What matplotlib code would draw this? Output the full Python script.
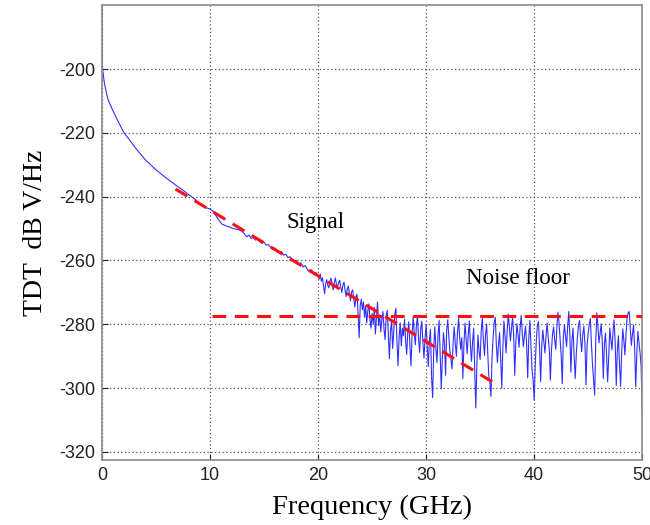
import numpy as np
import matplotlib
matplotlib.use("Agg")
import matplotlib.pyplot as plt

plt.rcParams["axes.unicode_minus"] = False

# ---- data ----
smooth_freq = [0.0, 0.0, 0.0, 0.02, 0.05, 0.2, 0.4, 0.6, 1.0, 1.5, 2.0, 2.5, 3.0, 3.5,
               4.0, 5.0, 6.0, 7.0, 7.5, 8.0, 8.6, 9.2, 9.6, 10.0, 10.3, 10.7, 11.1, 11.5, 11.8]
smooth_db = [-180.5, -190.0, -191.0, -196.0, -200.0, -204.0, -207.5, -210.0, -213.0, -216.5,
             -219.8, -222.0, -224.3, -226.4, -228.4, -231.6, -234.3, -236.8, -238.0, -239.3,
             -240.8, -242.6, -243.4, -243.9, -244.6, -246.8, -248.6, -249.2, -249.5]

# 12.0 .. 19.8 GHz, every 0.2 GHz
mid_start, mid_step = 12.0, 0.2
mid_db = [
    -249.8, -250.0, -250.2, -250.3, -250.6, -250.9, -251.8, -252.6, -252.0, -253.1,
    -252.8, -253.6, -253.2, -254.1, -254.6, -254.3, -255.2, -255.0, -255.9, -256.4,
    -256.1, -257.0, -257.5, -257.2, -258.3, -258.0, -259.1, -258.8, -259.9, -260.3,
    -260.0, -261.3, -260.7, -262.0, -261.6, -262.8, -263.6, -262.9, -264.5, -263.8,
]

# 20.0 .. 50.0 GHz, every 0.1 GHz
noise_start, noise_step = 20.0, 0.1
noise_db = [
    -264.6, -265.8, -264.2, -266.5, -265.4, -268.0, -270.4, -267.2, -266.0, -267.8,
    -268.6, -266.4, -265.6, -267.9, -269.2, -266.8, -265.5, -267.6, -268.3, -266.9,
    -266.2, -268.4, -270.0, -267.6, -266.8, -269.4, -271.3, -268.8, -268.0, -270.6,
    -272.6, -269.8, -269.2, -272.0, -274.6, -271.4, -270.6, -276.8, -284.2, -274.0,
    -272.2, -275.4, -273.0, -277.8, -274.2, -279.6, -275.8, -273.6, -278.4, -281.2,
    -276.6, -279.8, -274.8, -283.0, -278.2, -273.0, -280.4, -277.0, -282.4, -278.6,
    -276.0, -281.6, -284.8, -277.4, -275.6, -283.2, -290.8, -282.0, -279.0, -287.6,
    -282.4, -276.6, -275.0, -285.6, -293.0, -284.0, -279.6, -286.8, -281.2, -283.6,
    -278.4, -285.2, -289.4, -282.2, -279.2, -287.0, -293.0, -283.0, -277.6, -282.8,
    -286.4, -280.2, -277.4, -284.6, -288.8, -281.4, -279.0, -285.8, -290.6, -284.4,
    -280.2, -286.6, -293.2, -285.0, -281.6, -296.4, -303.0, -288.2, -280.8, -287.4,
    -292.0, -283.6, -278.8, -289.0, -300.2, -290.6, -282.6, -286.0, -296.0, -281.8,
    -278.6, -284.0, -288.4, -291.0, -294.0, -285.6, -280.8, -286.2, -290.0, -282.6,
    -278.2, -283.8, -287.8, -284.2, -297.0, -286.0, -279.6, -284.8, -289.2, -283.0,
    -279.0, -286.8, -291.6, -285.4, -281.2, -294.8, -306.2, -292.2, -283.4, -288.6,
    -291.0, -282.0, -278.0, -285.0, -289.8, -283.2, -280.0, -288.8, -296.2, -298.0,
    -302.6, -290.4, -284.0, -279.4, -277.8, -286.6, -292.0, -286.2, -282.6, -290.8,
    -300.0, -287.6, -279.0, -283.6, -289.0, -282.0, -276.8, -280.6, -285.2, -281.4,
    -277.6, -283.2, -296.0, -285.8, -279.8, -283.0, -287.2, -281.0, -277.2, -282.8,
    -287.0, -283.6, -280.6, -286.2, -296.8, -284.6, -278.8, -286.4, -294.0, -297.4,
    -303.8, -292.6, -285.0, -280.2, -279.2, -287.4, -298.0, -286.8, -281.8, -285.6,
    -289.0, -283.4, -279.6, -284.2, -287.6, -297.5, -288.2, -283.0, -280.8, -285.0,
    -287.8, -281.2, -276.2, -279.6, -284.4, -289.6, -298.6, -284.0, -280.2, -283.6,
    -287.0, -280.6, -276.0, -283.0, -295.0, -285.0, -281.2, -290.0, -297.0, -289.2,
    -284.2, -280.4, -278.8, -284.6, -288.6, -283.2, -280.6, -286.0, -299.0, -286.4,
    -282.8, -280.0, -278.2, -286.0, -292.8, -297.6, -302.2, -285.4, -276.4, -280.8,
    -285.8, -283.0, -279.8, -285.2, -297.0, -286.0, -282.8, -289.6, -298.0, -290.4,
    -281.2, -284.6, -288.0, -282.4, -278.6, -285.8, -299.2, -288.0, -283.6, -292.6,
    -299.4, -289.0, -281.4, -285.0, -289.6, -283.2, -278.0, -276.4, -276.0, -281.6,
    -286.6, -283.0, -280.2, -287.2, -299.6, -289.6, -282.2, -285.6, -289.0, -293.0,
    -308.5,
]

signal_fit_x = [6.8, 36.3]
signal_fit_y = [-237.6, -298.4]
noise_floor_x = [10.2, 50.0]
noise_floor_y = [-277.5, -277.5]

x_ticks = [0, 10, 20, 30, 40, 50]
y_ticks = [-320, -300, -280, -260, -240, -220, -200]

# ---- figure ----
mid_freq = mid_start + mid_step * np.arange(len(mid_db))
noise_freq = noise_start + noise_step * np.arange(len(noise_db))
freq = np.concatenate([smooth_freq, mid_freq, noise_freq])
tdt = np.concatenate([smooth_db, mid_db, noise_db])

fig = plt.figure(figsize=(6.5, 5.25), dpi=100)
ax = fig.add_axes([0.157, 0.124, 0.831, 0.866])

ax.plot(freq, tdt, color="#3030ff", lw=0.8, zorder=2)
dash = (0, (4.5, 2.8))
ax.plot(signal_fit_x, signal_fit_y, color="#ff1010", lw=2.2, ls=dash, zorder=3)
ax.plot(noise_floor_x, noise_floor_y, color="#ff1010", lw=2.2, ls=dash, zorder=3)

ax.set_xlim(0, 50)
ax.set_ylim(-322.5, -180)
ax.set_xticks(x_ticks)
ax.set_yticks(y_ticks)
ax.grid(True, color="#555555", ls=(0, (1, 2)), lw=0.9)
ax.tick_params(direction="in", length=4, colors="#222222", labelsize=13, pad=5)
for lab in ax.get_xticklabels() + ax.get_yticklabels():
    lab.set_fontfamily("Liberation Sans")
for s in ax.spines.values():
    s.set_color("#8a8a8a")
    s.set_linewidth(1.2)

serif = "Liberation Serif"
ax.set_xlabel("Frequency (GHz)", fontfamily=serif, fontsize=20.5, labelpad=8)
ax.set_ylabel("TDT  dB V/Hz", fontfamily=serif, fontsize=20, labelpad=8)
ax.text(17.1, -248, "Signal", fontfamily=serif, fontsize=16.5, va="center", ha="left")
ax.text(33.7, -265.5, "Noise floor", fontfamily=serif, fontsize=16.5, va="center", ha="left")

fig.savefig("out.png", dpi=100)
